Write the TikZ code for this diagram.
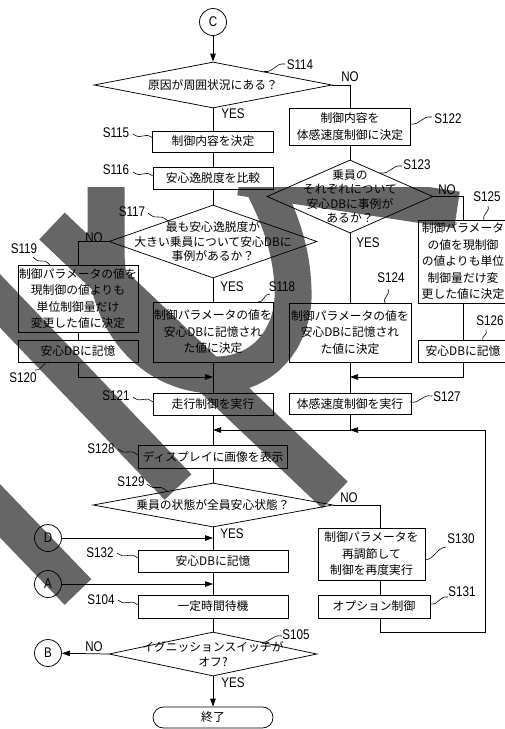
\documentclass[tikz,border=0pt]{standalone}
\usepackage{fontspec}
\setmainfont{Liberation Sans}
\newfontfamily\jpf{Noto Sans CJK JP}
\newfontfamily\labf{Liberation Sans}[FakeStretch=0.83]
\usetikzlibrary{shapes.geometric,arrows.meta,calc}
\tikzset{
  wm/.style={line width=37pt, draw=black!60, line cap=butt},
  bx/.style={draw, line width=0.75pt, inner sep=0pt, align=center, font=\jpf\fontsize{11.8}{16.5}\selectfont},
  dia/.style={draw, diamond, line width=0.75pt, inner sep=0pt},
  dt/.style={align=center, inner sep=0pt, font=\jpf\fontsize{11.8}{14.5}\selectfont},
  lb/.style={inner sep=0pt, font=\labf\fontsize{14}{14}\selectfont},
  cir/.style={draw, circle, line width=0.75pt, minimum size=27pt, inner sep=0pt, font=\labf\fontsize{14}{14}\selectfont},
  ln/.style={line width=0.75pt},
  ar/.style={line width=0.75pt, -{Triangle[length=8pt,width=5.5pt]}},
  sq/.style={line width=0.6pt},
}
\newcommand\sqg[2]{\draw[sq] (#1) .. controls ($(#1)!0.5!(#2)+(0,5)$) and ($(#1)!0.5!(#2)+(0,-5)$) .. (#2);}
\newcommand\sqv[2]{\draw[sq] (#1) .. controls ($(#1)!0.5!(#2)+(4,0)$) and ($(#1)!0.5!(#2)+(-4,0)$) .. (#2);}
\begin{document}
\begin{tikzpicture}[x=1pt,y=-1pt]
\useasboundingbox (0,0) rectangle (505,729);
% watermark strokes
\begin{scope}
\clip (0,187) rectangle (505,729);
\draw[wm] (-20,280) -- (178,487);
\draw[wm] (52,226) -- (335,495);
\draw[wm] (-20,490) -- (78,592);
\draw[wm] (106,150) -- (106,250) .. controls (106,330) and (160,375) .. (215,375) .. controls (270,375) and (295,330) .. (293,290) .. controls (292,250) and (280,215) .. (255,170);
\draw[wm] (240,177) -- (457,210);
\end{scope}

% main column
\node[cir] (cC) at (213,22) {C};
\node[dia, minimum width=238pt, minimum height=46pt] (d114) at (213,85) {};
\node[dt] (t114) at (d114) {原因が周囲状況にある？};
\node[bx, minimum width=121pt, minimum height=21pt] (s115) at (213,141.5) {制御内容を決定};
\node[bx, minimum width=120pt, minimum height=22pt] (s116) at (213,178) {安心逸脱度を比較};
\node[dia, minimum width=208pt, minimum height=73pt] (d117) at (213,241.5) {};
\node[dt] (t117) at (d117) {最も安心逸脱度が\\大きい乗員について安心DBに\\事例があるか？};
\node[bx, minimum width=120pt, minimum height=60pt] (s118) at (213,332) {制御パラメータの値を\\安心DBに記憶され\\た値に決定};
\node[bx, minimum width=120pt, minimum height=22pt] (s121) at (213,404) {走行制御を実行};
\node[bx, minimum width=149pt, minimum height=23pt] (s128) at (213,456.5) {ディスプレイに画像を表示};
\node[dia, minimum width=240pt, minimum height=44pt] (d129) at (213,505) {};
\node[dt] (t129) at (d129) {乗員の状態が全員安心状態？};
\node[bx, minimum width=150pt, minimum height=22pt] (s132) at (213,561) {安心DBに記憶};
\node[bx, minimum width=150pt, minimum height=23pt] (s104) at (213,606.5) {一定時間待機};
\node[dia, minimum width=208pt, minimum height=44pt] (d105) at (213,654) {};
\node[dt] (t105) at (d105) {イグニッションスイッチが\\オフ?};
\node[bx, rounded corners=10.5pt, minimum width=120pt, minimum height=21pt] (end) at (213,717.5) {終了};

% left column
\node[bx, minimum width=120pt, minimum height=67pt] (s119) at (78,298.5) {制御パラメータの値を\\現制御の値よりも\\単位制御量だけ\\変更した値に決定};
\node[bx, minimum width=120pt, minimum height=22pt] (s120) at (78,351) {安心DBに記憶};
\node[cir] (cD) at (48,538) {D};
\node[cir] (cA) at (48,584) {A};
\node[cir] (cB) at (48,653) {B};

% right column
\node[bx, minimum width=121pt, minimum height=37pt] (s122) at (350,126.5) {制御内容を\\体感速度制御に決定};
\node[dia, minimum width=166pt, minimum height=73pt] (d123) at (350,196.5) {};
\node[dt] (t123) at (d123) {乗員の\\それぞれについて\\安心DBに事例が\\あるか？};
\node[bx, minimum width=122pt, minimum height=59pt] (s124) at (350,332.5) {制御パラメータの値を\\安心DBに記憶され\\た値に決定};
\node[bx, minimum width=122pt, minimum height=21pt] (s127) at (350,403.5) {体感速度制御を実行};
\node[bx, minimum width=90pt, minimum height=83pt] (s125) at (463,261.5) {制御パラメータ\\の値を現制御\\の値よりも単位\\制御量だけ変\\更した値に決定};
\node[bx, minimum width=90pt, minimum height=22pt] (s126) at (463,351) {安心DBに記憶};
\node[bx, minimum width=107pt, minimum height=52pt] (s130) at (371.5,554) {制御パラメータを\\再調節して\\制御を再度実行};
\node[bx, minimum width=112pt, minimum height=23pt] (s131) at (374,606.5) {オプション制御};

% junctions
\coordinate (x380) at (380,0);
\coordinate (j377) at (213,377);
\coordinate (k377) at (350,377);
\coordinate (j430) at (213,430);
\coordinate (k430) at (350,430);
\coordinate (jD) at (213,538);
\coordinate (jA) at (213,584);
\coordinate (fb1) at (380,632);
\coordinate (fb2) at (485,632);
\coordinate (fb3) at (485,430);

% connectors
\draw[ar] (cC) -- (d114.north);
\draw[ln] (d114.south) -- (s115.north);
\draw[ln] (s115.south) -- (s116.north);
\draw[ln] (s116.south) -- (d117.north);
\draw[ln] (d117.south) -- (s118.north);
\draw[ln] (s118.south) -- (s121.north);
\draw[ln] (s121.south) -- (s128.north);
\draw[ln] (s128.south) -- (d129.north);
\draw[ln] (d129.south) -- (s132.north);
\draw[ln] (s132.south) -- (s104.north);
\draw[ln] (s104.south) -- (d105.north);
\draw[ar] (d105.south) -- (end.north);
\draw[ar] (d105.west) -- (cB);
\draw[ar] (cD) -- (jD);
\draw[ar] (cA) -- (jA);
\draw[ln] (d117.west) -| (s119.north);
\draw[ln] (s119.south) -- (s120.north);
\draw[ar] (s120.south) |- (j377);
\draw[ln] (d114.east) -| (s122.north);
\draw[ln] (s122.south) -- (d123.north);
\draw[ln] (d123.south) -- (s124.north);
\draw[ln] (s124.south) -- (s127.north);
\draw[ln] (d123.east) -| (s125.north);
\draw[ln] (s125.south) -- (s126.north);
\draw[ar] (s126.south) |- (k377);
\draw[ar] (s127.south) |- (j430);
\draw[ln] (d129.east) -| (s130.north -| x380);
\draw[ln] (s130.south -| x380) -- (s131.north -| x380);
\draw[ar] (s131.south -| x380) -- (fb1) -- (fb2) -- (fb3) -- (k430);

% yes / no labels
\node[lb] (n114) at (350,77) {NO};
\node[lb] (y114) at (233,114) {YES};
\node[lb] (n117) at (94,238) {NO};
\node[lb] (y117) at (232,287) {YES};
\node[lb] (n123) at (447,190) {NO};
\node[lb] (y123) at (368,243) {YES};
\node[lb] (n129) at (349,498) {NO};
\node[lb] (y129) at (232,534) {YES};
\node[lb] (n105) at (94,647) {NO};
\node[lb] (y105) at (233,683) {YES};

% step labels
\node[lb] (l114) at (300,65) {S114};
\node[lb] (l115) at (116,133) {S115};
\node[lb] (l116) at (116,170) {S116};
\node[lb] (l122) at (448,119) {S122};
\node[lb] (l123) at (417,165) {S123};
\node[lb] (l117) at (132,212) {S117};
\node[lb] (l119) at (24,249) {S119};
\node[lb] (l118) at (282,287) {S118};
\node[lb] (l124) at (391,278) {S124};
\node[lb] (l125) at (487,197) {S125};
\node[lb] (l126) at (490,321) {S126};
\node[lb] (l120) at (23,378) {S120};
\node[lb] (l121) at (116,396) {S121};
\node[lb] (l127) at (447,397) {S127};
\node[lb] (l128) at (101,449) {S128};
\node[lb] (l129) at (131,482) {S129};
\node[lb] (l130) at (461,539) {S130};
\node[lb] (l131) at (462,592) {S131};
\node[lb] (l132) at (100,553) {S132};
\node[lb] (l104) at (101,600) {S104};
\node[lb] (l105) at (296,635) {S105};

% squiggles
\sqg{264,71.5}{285,64}
\sqg{133,134}{153,138}
\sqg{133,172}{153,176}
\sqg{410,124}{432,117}
\sqg{380,173}{402,166}
\sqg{148,213}{168,221}
\sqg{33,257}{50,265}
\sqg{258,302}{270,294}
\sqv{388,289}{385,303}
\sqv{488,206}{484,220}
\sqv{486,330}{483,341}
\sqg{35,370}{50,362}
\sqg{133,397}{153,402}
\sqg{410,402}{432,396}
\sqg{118,449}{138,455}
\sqg{147,484}{167,491}
\sqg{425,560}{446,547}
\sqg{430,604}{448,597}
\sqg{117,553}{138,558}
\sqg{118,600}{138,605}
\sqg{260,642}{282,636}
\end{tikzpicture}
\end{document}
